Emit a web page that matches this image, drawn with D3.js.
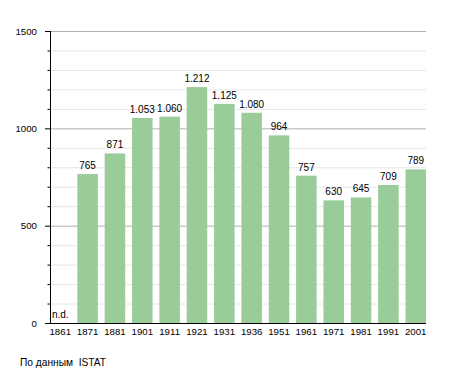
<!DOCTYPE html>
<html><head><meta charset="utf-8">
<script src="https://cdn.jsdelivr.net/npm/d3@7"></script>
<style>body{margin:0;background:#fff;}svg{display:block;font-family:"Liberation Sans",Arial,sans-serif;}</style>
</head><body>
<script>
const years = ["1861","1871","1881","1901","1911","1921","1931","1936","1951","1961","1971","1981","1991","2001"];
const population = [null,765,871,1053,1060,1212,1125,1080,964,757,630,645,709,789];
const valueLabels = ["n.d.","765","871","1.053","1.060","1.212","1.125","1.080","964","757","630","645","709","789"];
const majorTicks = [0,500,1000,1500];
const minorTicks = d3.range(0,1501,100);
const sourceText = "По данным  ISTAT";

const W=455,H=373;
const svg=d3.select("body").append("svg").attr("width",W).attr("height",H);
const x=d3.scaleBand().domain(years).range([50,426]).paddingInner(0.25).paddingOuter(0).align(0);
const y=d3.scaleLinear().domain([0,1500]).range([323,31]);

// grid
svg.append("g").selectAll("line").data(minorTicks.filter(v=>v>0)).join("line")
  .attr("x1",50).attr("x2",426).attr("y1",d=>y(d)+0.5).attr("y2",d=>y(d)+0.5)
  .attr("stroke",d=>d%500===0?"#b0b0b0":"#e6e6e6").attr("stroke-width",1);

// bars
svg.append("g").selectAll("rect").data(years.map((d,i)=>({yr:d,v:population[i]})).filter(d=>d.v!=null)).join("rect")
  .attr("x",d=>x(d.yr)).attr("width",x.bandwidth())
  .attr("y",d=>y(d.v)).attr("height",d=>y(0)-y(d.v)).attr("fill","#99cc99");

// value labels
svg.append("g").selectAll("text").data(years.map((d,i)=>({yr:d,v:population[i],t:valueLabels[i]}))).join("text")
  .attr("x",d=>x(d.yr)+x.bandwidth()/2).attr("y",d=>y(d.v||0)-5)
  .attr("text-anchor","middle").attr("font-size","10px").attr("fill","#000").text(d=>d.t);

// y axis ticks
const ya=svg.append("g");
ya.selectAll("line").data(minorTicks).join("line")
  .attr("x1",d=>d%500===0?45:47.5).attr("x2",50).attr("y1",d=>y(d)+0.5).attr("y2",d=>y(d)+0.5)
  .attr("stroke","#000");
ya.selectAll("text").data(majorTicks).join("text")
  .attr("x",37).attr("y",d=>y(d)+3.5).attr("text-anchor","end").attr("font-size","9.7px").text(d=>d);
ya.append("line").attr("x1",50.5).attr("x2",50.5).attr("y1",31).attr("y2",323.5).attr("stroke","#000");

// x axis
const xa=svg.append("g");
xa.append("line").attr("x1",50).attr("x2",426).attr("y1",323.5).attr("y2",323.5).attr("stroke","#000");
xa.selectAll("text").data(years).join("text")
  .attr("x",d=>x(d)+x.bandwidth()/2).attr("y",335).attr("text-anchor","middle").attr("font-size","9.7px").text(d=>d);

svg.append("text").attr("x",20).attr("y",366).attr("font-size","10.2px").attr("xml:space","preserve").style("white-space","pre").text(sourceText);
</script>
</body></html>
